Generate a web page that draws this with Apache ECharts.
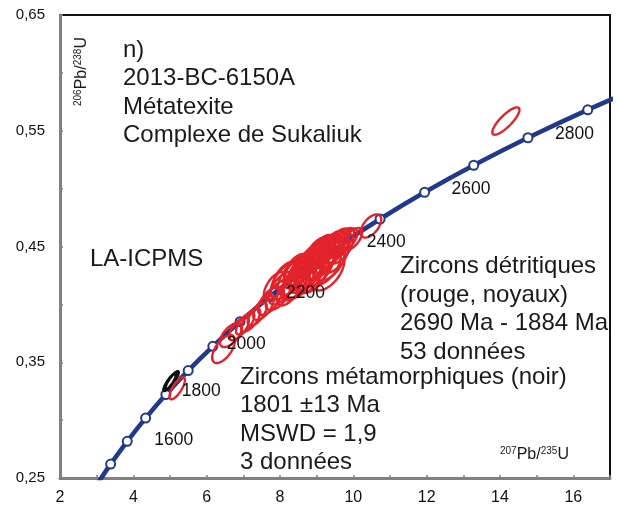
<!DOCTYPE html>
<html>
<head>
<meta charset="utf-8">
<script src="https://cdn.jsdelivr.net/npm/echarts@6/dist/echarts.min.js"></script>
<style>
  html, body { margin: 0; padding: 0; background: #fff; }
  #chart { width: 618px; height: 507px; }
</style>
</head>
<body>
<div id="chart"></div>
<script>
// Concordia nodes every 100 Ma (207Pb/235U, 206Pb/238U)
const concordiaAges = [1400, 1500, 1600, 1700, 1800, 1900, 2000, 2100, 2200, 2300, 2400, 2500, 2600, 2700, 2800, 2900, 3000];
const concordiaX = [2.9701, 3.3810, 3.8344, 4.3348, 4.8869, 5.4962, 6.1685, 6.9105, 7.7292, 8.6326, 9.6296, 10.7297, 11.9437, 13.2834, 14.7617, 16.3929, 18.1931];
const concordiaY = [0.24256, 0.26199, 0.28172, 0.30175, 0.32211, 0.34277, 0.36377, 0.38509, 0.40674, 0.42873, 0.45107, 0.47376, 0.49679, 0.52020, 0.54396, 0.56810, 0.59261];

// Ages written next to the concordia
const labelAges = [1600, 1800, 2000, 2200, 2400, 2600, 2800];

// Axis tick labels
const xTickLabels = [2, 4, 6, 8, 10, 12, 14, 16];
const yTickLabels = [0.25, 0.35, 0.45, 0.55, 0.65];

// Detrital zircon error ellipses: [207Pb/235U, 206Pb/238U, half-width x, half-height y, rho]
const detritalEllipses = [
  [14.16, 0.5584, 0.37, 0.0118, 0.82],
  [10.48, 0.4677, 0.28, 0.0100, 0.55],
  [9.98, 0.4565, 0.26, 0.0095, 0.60],
  [9.85, 0.4560, 0.26, 0.0095, 0.60],
  [8.05, 0.414, 0.36, 0.0140, 0.60],
  [8.15, 0.420, 0.40, 0.0155, 0.55],
  [8.25, 0.412, 0.34, 0.0130, 0.62],
  [8.32, 0.423, 0.38, 0.0150, 0.58],
  [8.40, 0.417, 0.35, 0.0135, 0.60],
  [8.45, 0.428, 0.36, 0.0140, 0.60],
  [8.52, 0.421, 0.42, 0.0160, 0.52],
  [8.57, 0.430, 0.34, 0.0130, 0.62],
  [8.62, 0.425, 0.38, 0.0150, 0.56],
  [8.67, 0.433, 0.36, 0.0135, 0.60],
  [8.72, 0.428, 0.44, 0.0165, 0.50],
  [8.77, 0.436, 0.33, 0.0125, 0.64],
  [8.82, 0.431, 0.38, 0.0145, 0.58],
  [8.86, 0.439, 0.36, 0.0135, 0.60],
  [8.90, 0.427, 0.42, 0.0170, 0.50],
  [8.95, 0.435, 0.37, 0.0140, 0.58],
  [9.00, 0.441, 0.34, 0.0130, 0.62],
  [9.04, 0.432, 0.42, 0.0160, 0.52],
  [9.08, 0.443, 0.36, 0.0135, 0.60],
  [9.12, 0.437, 0.39, 0.0150, 0.56],
  [9.16, 0.446, 0.34, 0.0125, 0.64],
  [9.20, 0.434, 0.46, 0.0175, 0.48],
  [9.25, 0.442, 0.38, 0.0145, 0.58],
  [9.30, 0.448, 0.35, 0.0130, 0.62],
  [9.34, 0.437, 0.44, 0.0165, 0.50],
  [9.38, 0.445, 0.36, 0.0135, 0.60],
  [9.43, 0.451, 0.33, 0.0125, 0.64],
  [9.48, 0.442, 0.40, 0.0150, 0.55],
  [9.53, 0.449, 0.35, 0.0130, 0.60],
  [9.58, 0.454, 0.31, 0.0115, 0.65],
  [9.64, 0.448, 0.36, 0.0130, 0.60],
  [9.72, 0.455, 0.30, 0.0110, 0.66],
  [8.42, 0.432, 0.30, 0.0115, 0.65],
  [8.80, 0.423, 0.36, 0.0135, 0.58],
  [9.14, 0.449, 0.30, 0.0110, 0.66],
  [8.12, 0.425, 0.30, 0.0115, 0.64],
  [9.00, 0.447, 0.28, 0.0105, 0.66],
  [9.28, 0.430, 0.48, 0.0180, 0.48],
  [7.95, 0.408, 0.34, 0.0130, 0.60],
  [7.86, 0.416, 0.30, 0.0120, 0.62],
  [7.72, 0.403, 0.32, 0.0120, 0.62],
  [7.55, 0.397, 0.28, 0.0105, 0.65],
  [7.38, 0.3915, 0.26, 0.0100, 0.68],
  [7.20, 0.3865, 0.26, 0.0100, 0.68],
  [7.05, 0.3835, 0.25, 0.0095, 0.70],
  [6.88, 0.3790, 0.27, 0.0100, 0.68],
  [6.66, 0.3735, 0.30, 0.0104, 0.60],
  [6.46, 0.3614, 0.31, 0.0121, 0.60],
  [5.196, 0.3275, 0.21, 0.0095, 0.75]
];

// Metamorphic zircon error ellipses
const metamorphicEllipses = [
  [5.02, 0.3335, 0.19, 0.0080, 0.85],
  [5.06, 0.3345, 0.18, 0.0078, 0.86],
  [4.99, 0.3325, 0.17, 0.0074, 0.88]
];

const FONT = '"Liberation Sans", Arial, Helvetica, sans-serif';
const NAVY = '#22398b';
const RED = '#e3232b';

const concordiaData = concordiaAges.map((a, i) => [concordiaX[i], concordiaY[i], a]);
const labelData = labelAges.map(a => {
  const i = concordiaAges.indexOf(a);
  return [concordiaX[i], concordiaY[i], a];
});
// label placement next to each age node (px)
const labelOffsets = {
  1600: [27, -1], 1800: [16, -3], 2000: [14, -2], 2200: [16, -3],
  2400: [27, -3], 2600: [27, -3], 2800: [27, -4]
};

function ellipseRenderer(color) {
  return function (params, api) {
    const cx = api.value(0), cy = api.value(1);
    const sx = api.value(2), sy = api.value(3), rho = api.value(4);
    const k = Math.sqrt(1 - rho * rho);
    const pts = [];
    const n = 64;
    for (let j = 0; j < n; j++) {
      const t = (2 * Math.PI * j) / n;
      const c = Math.cos(t), s = Math.sin(t);
      pts.push(api.coord([cx + sx * c, cy + sy * (rho * c + k * s)]));
    }
    return {
      type: 'polygon',
      shape: { points: pts },
      style: { fill: 'none', stroke: color, lineWidth: 2.4 }
    };
  };
}

const chart = echarts.init(document.getElementById('chart'), null, { renderer: 'canvas' });

chart.setOption({
  animation: false,
  backgroundColor: '#ffffff',
  grid: {
    left: 60, right: 8, top: 15, bottom: 29,
    show: true, borderColor: '#111111', borderWidth: 2, backgroundColor: 'transparent'
  },
  xAxis: {
    type: 'value', min: 2, max: 17, interval: 1,
    axisLine: { show: true, onZero: false, lineStyle: { color: '#808080', width: 3 } },
    axisTick: { show: true, inside: true, length: 3, lineStyle: { color: '#808080', width: 1.5 } },
    splitLine: { show: false },
    axisLabel: {
      margin: 12, color: '#111', fontSize: 16, fontFamily: FONT,
      formatter: v => xTickLabels.includes(Math.round(v)) && Math.abs(v - Math.round(v)) < 1e-6 ? String(Math.round(v)) : ''
    }
  },
  yAxis: {
    type: 'value', min: 0.25, max: 0.65, interval: 0.05,
    axisLine: { show: true, onZero: false, lineStyle: { color: '#808080', width: 3 } },
    axisTick: { show: true, inside: true, length: 3, lineStyle: { color: '#808080', width: 1.5 } },
    splitLine: { show: false },
    axisLabel: {
      margin: 15, color: '#111', fontSize: 15, fontFamily: FONT,
      formatter: v => yTickLabels.some(t => Math.abs(t - v) < 1e-6) ? v.toFixed(2).replace('.', ',') : ''
    }
  },
  series: [
    {
      type: 'line',
      name: 'concordia',
      data: concordiaData,
      smooth: 0.3,
      showSymbol: false,
      clip: true,
      lineStyle: { color: NAVY, width: 4.6 },
      z: 2
    },
    {
      type: 'scatter',
      name: 'ages',
      data: concordiaData,
      clip: true,
      symbol: 'circle',
      symbolSize: 9,
      itemStyle: { color: '#ffffff', borderColor: NAVY, borderWidth: 2, opacity: 1 },
      z: 3
    },
    {
      type: 'custom',
      name: 'metamorphic',
      data: metamorphicEllipses,
      dimensions: ['x', 'y', 'sx', 'sy', 'rho'],
      encode: { x: 0, y: 1 },
      renderItem: ellipseRenderer('#111111'),
      z: 4
    },
    {
      type: 'custom',
      name: 'detrital',
      data: detritalEllipses,
      dimensions: ['x', 'y', 'sx', 'sy', 'rho'],
      encode: { x: 0, y: 1 },
      renderItem: ellipseRenderer(RED),
      z: 5
    },
    {
      type: 'scatter',
      name: 'ageLabels',
      itemStyle: { opacity: 1 },
      data: labelData.map(d => ({
        value: d,
        label: {
          show: true, position: 'right', distance: 0,
          offset: labelOffsets[d[2]],
          formatter: String(d[2]),
          color: '#111', fontSize: 17.5, fontFamily: FONT
        }
      })),
      symbolSize: 0,
      silent: true,
      z: 6
    }
  ],
  graphic: [
    {
      type: 'text', x: 123, y: 36, z: 10,
      style: {
        text: 'n)\n2013-BC-6150A\nMétatexite\nComplexe de Sukaliuk',
        font: '24px ' + FONT, fill: '#1a1a1a', lineHeight: 28.5,
        textVerticalAlign: 'top'
      }
    },
    {
      type: 'text', x: 90, y: 245, z: 10,
      style: { text: 'LA-ICPMS', font: '24px ' + FONT, fill: '#1a1a1a', lineHeight: 28, textVerticalAlign: 'top' }
    },
    {
      type: 'text', x: 400, y: 252, z: 10,
      style: {
        text: 'Zircons détritiques\n(rouge, noyaux)\n2690 Ma - 1884 Ma\n53 données',
        font: '24px ' + FONT, fill: '#1a1a1a', lineHeight: 28.7, textVerticalAlign: 'top'
      }
    },
    {
      type: 'text', x: 240, y: 363, z: 10,
      style: {
        text: 'Zircons métamorphiques (noir)\n1801 ±13 Ma\nMSWD = 1,9\n3 données',
        font: '24px ' + FONT, fill: '#1a1a1a', lineHeight: 28.4, textVerticalAlign: 'top'
      }
    },
    {
      type: 'text', x: 500, y: 446, z: 10,
      style: {
        text: '{s|207}{m|Pb/}{s|235}{m|U}',
        rich: {
          s: { fontSize: 10, fontFamily: FONT, fill: '#1a1a1a', lineHeight: 18, verticalAlign: 'top' },
          m: { fontSize: 16, fontFamily: FONT, fill: '#1a1a1a', lineHeight: 18 }
        },
        textVerticalAlign: 'top'
      }
    },
    {
      type: 'text', x: 73, y: 106, rotation: Math.PI / 2, z: 10,
      style: {
        text: '{s|206}{m|Pb/}{s|238}{m|U}',
        rich: {
          s: { fontSize: 10, fontFamily: FONT, fill: '#1a1a1a', lineHeight: 18, verticalAlign: 'top' },
          m: { fontSize: 16, fontFamily: FONT, fill: '#1a1a1a', lineHeight: 18 }
        },
        textVerticalAlign: 'top'
      }
    }
  ]
});
</script>
</body>
</html>
